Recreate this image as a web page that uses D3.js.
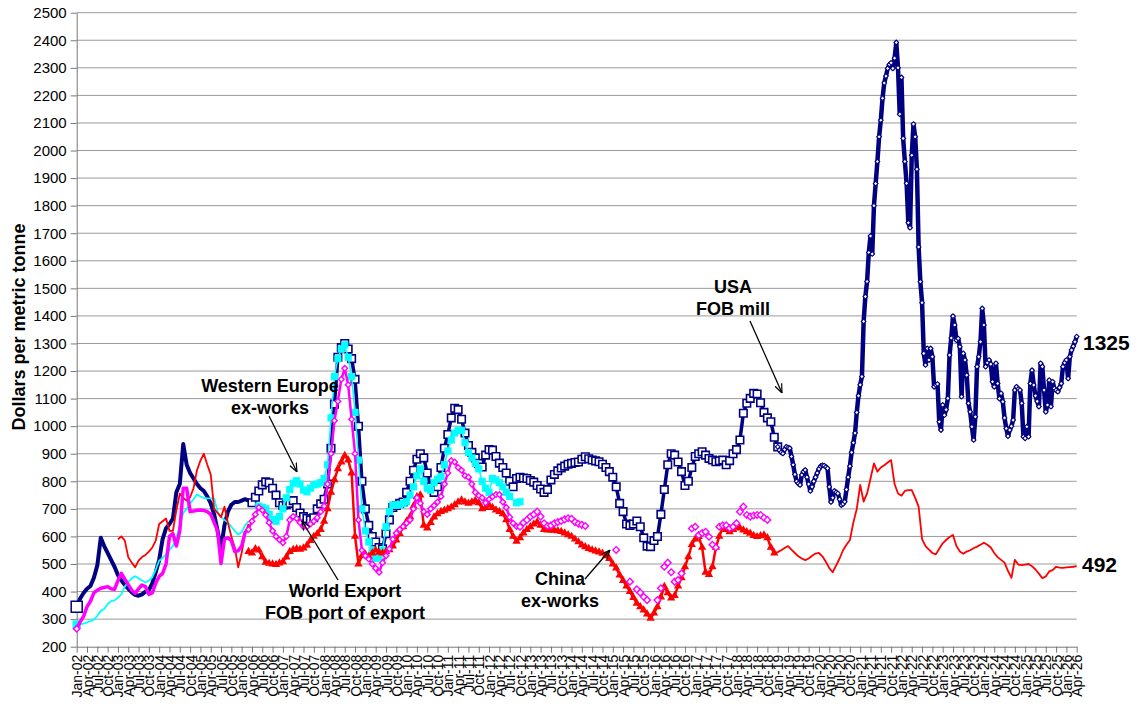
<!DOCTYPE html>
<html><head><meta charset="utf-8">
<script src="https://cdn.jsdelivr.net/npm/d3@7"></script>
<style>
body{margin:0;background:#fff;}
text{font-family:"Liberation Sans",Arial,Helvetica,sans-serif;}
</style>
</head><body>
<svg id="chart" width="1140" height="706"></svg>
<script>
// ---------------- DATA ----------------
// month index 0 = Jan-02 ... 291 = Apr-26
const monthNames = ["Jan","Feb","Mar","Apr","May","Jun","Jul","Aug","Sep","Oct","Nov","Dec"];
const yTicks = [200,300,400,500,600,700,800,900,1000,1100,1200,1300,1400,1500,1600,1700,1800,1900,2000,2100,2200,2300,2400,2500];

// USA FOB mill
const usaEarlyStart = 0;
const usaEarly = [345,375,395,410,420,450,495,595,565,540,515,490,460,440,425,410,398,388,385,390,
400,405,430,470,515,590,630,645,665,760,790,935,860,830,810,790,775,765,745,720,
680,620,555,640,690,715,725,725,730,735,730,722];
const usaSquaresStart = 51;
const usaSquares = [722,742,765,787,798,795,775,750,722,
712,715,720,730,705,685,672,665,660,668,
700,718,735,790,920,1080,1250,1285,1300,1280,
1245,1170,1000,800,700,640,600,580,560,555,
610,660,705,712,720,725,760,800,840,880,
900,885,830,780,760,780,850,920,970,1030,
1065,1060,1025,975,930,905,885,865,852,895,
915,913,890,866,850,830,800,780,810,815,
812,810,803,797,785,772,760,770,805,825,
838,848,855,862,865,868,870,880,889,882,
877,874,871,862,850,835,815,780,720,690,
645,640,645,656,635,595,565,563,585,600,
680,770,860,900,895,870,835,785,800,850,
890,900,907,895,883,877,871,874,877,860,
875,900,915,950,1047,1083,1101,1119,1117,1085,
1050,1030,1016,960,925];
const usaRecentStart = 204; // half-month steps
const usaRecent = [925,913, 905,901, 915,925, 922,920, 890,860, 825,800, 792,787, 823,835, 841,815, 790,765,
780,800, 815,830, 845,855, 858,857, 852,847, 780,725, 740,765, 760,756, 735,714, 718,726,
770,815, 855,905, 940,975, 1050,1110, 1150,1180, 1380,1470, 1525,1630, 1690,1625, 1800,1880, 1960,2050,
2110,2190, 2245,2270, 2298,2312, 2318,2298, 2335,2392, 2300,2132, 2265,2044, 1960,1881, 1738,1720, 1983,2096,
2050,1932, 1650,1524, 1448,1264, 1222,1282, 1240,1282, 1252,1143, 1150,1153, 1016,986, 1077,1040, 1060,1101,
1258,1320, 1399,1367, 1312,1318, 1288,1107, 1264,1240, 1185,1083, 1052,998, 950,1034, 1216,1252, 1306,1427,
1367,1216, 1230,1240, 1225,1161, 1143,1228, 1155,1100, 1119,1089, 1030,992, 964,986, 1000,1022, 1131,1143,
1135,1131, 1083,962, 956,998, 962,1155, 1203,1149, 1110,1090, 1071,1228, 1216,1131, 1052,1077, 1167,1071,
1161,1137, 1130,1125, 1140,1155, 1216,1230, 1240,1173, 1252,1276, 1290,1306, 1325];

// World Export FOB port of export
const exportEarlyStart = 12;
const exportEarly = [590,600,585,525,505,488,512,525,533,545,560,585,645,655,665,620,620,695,755,740,
730,742,775,840,875,900,860,825,700,685,670,708,650,600,560,488,540,610,645];
const exportTriStart = 50;
const exportTri = [545,540,555,550,526,506,502,500,498,503,
508,525,545,552,555,553,558,568,585,600,
610,625,655,700,760,805,845,870,893,877,
830,600,500,530,535,528,540,550,542,540,
545,551,565,587,610,635,655,671,710,744,
750,640,630,650,670,682,690,695,700,706,
715,725,732,725,720,725,730,722,700,705,
714,705,696,690,682,660,625,600,582,595,
612,625,635,645,652,640,625,623,623,622,
620,618,612,606,600,590,580,569,562,556,
551,547,543,539,530,520,500,485,460,440,
420,400,378,357,345,333,318,303,322,345,
380,418,395,376,385,420,450,490,526,570,
590,599,560,470,462,490,560,600,633,625,
617,625,635,630,623,617,611,603,599,602,
605,595,560,540];
const exportLateStart = 203;
const exportLate = [540,543,550,558,565,552,540,528,520,514,
520,530,538,540,528,508,485,470,495,520,
550,570,587,650,700,787,726,756,810,865,
835,850,858,868,877,790,756,748,765,768,
768,740,708,590,565,552,540,535,555,575,
587,598,605,565,545,537,545,550,557,563,
570,577,570,560,540,525,515,505,475,450,
515,498,496,498,500,492,480,465,448,455,
473,478,490,487,486,488,489,490,492];

// China ex-works
const chinaEarlyStart = 0;
const chinaEarly = [265,290,310,345,365,395,405,412,415,418,
410,408,440,466,445,425,405,394,410,424,
418,390,395,430,455,466,500,600,610,565,
620,775,775,690,692,695,696,695,690,680,
650,620,502,590,595,585,545,548,565,615,625];
const chinaMidStart = 50;
const chinaMid = [625,655,680,705,695,678,650,620,600,588,
577,600,660,672,665,650,635,635,645,655,
668,690,710,790,900,1020,1090,1170,1210,1150,
1025,900,660,550,530,518,500,485,470,505,
530,555,590,612,625,636,648,660,700,740,
720,690,680,700,712,725,745,790,830,875,
870,850,840,820,815,790,760,748,740,722,
735,744,752,752,725,705,670,648,636];
const chinaLateStart = 129;
const chinaLate = [635,650,660,672,680,690,672,648,638,640,
648,652,656,662,666,664,652,646,642,638,
null,null,null,null,null,null,null,null,551,null,
null,null,436,null,408,396,381,369,null,null,
369,412,490,505,470,436,442,466,null,null,
629,635,605,612,617,599,570,560,635,640,
640,630,635,648,690,708,678,672,676,678,
678,668,660];

// Western Europe ex-works
const weEarlyStart = 0;
const weEarly = [280,282,284,288,293,298,312,330,337,355,
365,368,378,390,418,435,448,456,448,440,
433,440,452,480,512,522,535,552,566,595,
640,685,700,720,735,752,745,740,738,738,
738,690,670,660,650,635,620,607,615,640,655];
const weSquaresStart = 53;
const weSquares = [710,705,700,680,662,655,672,700,740,770,
793,802,790,768,762,775,787,790,795,810,
860,1030,1180,1245,1280,1295,1250,1180,1050,877,
700,620,580,550,520,525,550,635,690,714,
714,714,720,726,750,780,820,845,800,775,
768,795,808,817,860,910,950,975,985,985,
940,905,885,865,845,800,775,760,810,805,
795,780,760,745,null,722,726];

// ---------------- DRAWING ----------------
const svg = d3.select("#chart");
const tickIdx = d3.range(0, 292, 3);
const tickLabels = tickIdx.map(i => monthNames[i % 12] + "-" + String(2 + Math.floor(i / 12)).padStart(2, "0"));

const x = d3.scaleLinear().domain([0, 291]).range([76.7, 1076.7]);
const y = d3.scaleLinear().domain([200, 2500]).range([646.7, 12.7]);

function pts(start, step, vals) { return vals.map((v, k) => ({ i: start + k * step, v })); }
const line = d3.line().defined(d => d.v != null).x(d => x(d.i)).y(d => y(d.v));

// gridlines
svg.append("g").selectAll("line").data(yTicks.slice(1)).join("line")
  .attr("x1", x(0)).attr("x2", x(291))
  .attr("y1", d => y(d)).attr("y2", d => y(d))
  .attr("stroke", "#9a9a9a").attr("stroke-width", 1);

// y axis
const gy = svg.append("g").attr("transform", `translate(${x(0)},0)`)
  .call(d3.axisLeft(y).tickValues(yTicks).tickFormat(d3.format("d")).tickSize(6).tickPadding(4).tickSizeOuter(0));
gy.select(".domain").attr("stroke", "#777");
gy.selectAll(".tick line").attr("stroke", "#777");
gy.selectAll("text").attr("font-size", 15).attr("fill", "#000")
  .style("font-family", '"Liberation Sans",Arial,sans-serif');

// x axis
const gx = svg.append("g").attr("transform", `translate(0,${y(200)})`)
  .call(d3.axisBottom(x).tickValues(tickIdx).tickFormat((d, k) => tickLabels[k]).tickSize(6).tickSizeOuter(0));
gx.select(".domain").attr("stroke", "#777");
gx.selectAll(".tick line").attr("stroke", "#777");
gx.selectAll("text").attr("font-size", 14).attr("fill", "#000")
  .style("font-family", '"Liberation Sans",Arial,sans-serif')
  .attr("text-anchor", "end").attr("transform", "translate(0,2) rotate(-90)")
  .attr("x", -6).attr("y", 0).attr("dy", "0.36em");

// y title
svg.append("text").attr("transform", "translate(25,327) rotate(-90)")
  .attr("text-anchor", "middle").attr("font-weight", "bold").attr("font-size", 18)
  .text("Dollars per metric tonne");

const NAVY = "#000080", RED = "#ff0000", MAG = "#ff00ff", CYAN = "#00ffff";
const sym = (type, size) => d3.symbol().type(type).size(size)();

function drawLine(data, color, width) {
  svg.append("path").datum(data).attr("d", line).attr("fill", "none")
    .attr("stroke", color).attr("stroke-width", width).attr("stroke-linejoin", "round");
}
function drawMarkers(data, type, size, fill, stroke, sw, rot) {
  svg.append("g").selectAll("path").data(data.filter(d => d.v != null)).join("path")
    .attr("transform", d => `translate(${x(d.i)},${y(d.v)})` + (rot ? ` rotate(${rot})` : ""))
    .attr("d", sym(type, size)).attr("fill", fill).attr("stroke", stroke).attr("stroke-width", sw);
}

// USA
const usaA = pts(usaEarlyStart, 1, usaEarly);
const usaB = pts(usaSquaresStart, 1, usaSquares);
const usaC = pts(usaRecentStart, 0.5, usaRecent);
drawLine(usaA, NAVY, 4);
drawLine(usaB, NAVY, 3.5);
drawLine(usaC, NAVY, 4.5);
drawMarkers([usaA[0]], d3.symbolSquare, 121, "#fff", NAVY, 1.5);
drawMarkers(usaB, d3.symbolSquare, 56, "#fff", NAVY, 1.6);
drawMarkers(usaC, d3.symbolSquare, 11, "#fff", NAVY, 1.1, 45);

// Western Europe
const weA = pts(weEarlyStart, 1, weEarly);
const weB = pts(weSquaresStart, 1, weSquares);
drawLine(weA, CYAN, 1.8);
drawMarkers([weA[0]], d3.symbolSquare, 70, CYAN, "none", 0);
drawLine(weB, CYAN, 1.5);
drawMarkers(weB, d3.symbolSquare, 52, CYAN, "none", 0);

// World Export
const exA = pts(exportEarlyStart, 1, exportEarly);
const exB = pts(exportTriStart, 1, exportTri);
const exC = pts(exportLateStart, 1, exportLate);
drawLine(exA, RED, 1.8);
drawLine(exB, RED, 2.5);
drawMarkers(exB, d3.symbolTriangle, 30, RED, "none", 0);
drawLine(exC, RED, 1.8);

// China
const chA = pts(chinaEarlyStart, 1, chinaEarly);
const chB = pts(chinaMidStart, 1, chinaMid);
const chC = pts(chinaLateStart, 1, chinaLate);
drawLine(chA, MAG, 3.5);
drawMarkers([chA[0]], d3.symbolSquare, 20, "#fff", MAG, 1.5, 45);
drawLine(chB, MAG, 2.5);
drawMarkers(chB, d3.symbolSquare, 16, "#fff", MAG, 1.4, 45);
drawMarkers(chC, d3.symbolSquare, 22, "#fff", MAG, 1.4, 45);

// end labels
svg.append("text").attr("x", 1083).attr("y", 350).attr("font-weight", "bold").attr("font-size", 21).text("1325");
svg.append("text").attr("x", 1082).attr("y", 572).attr("font-weight", "bold").attr("font-size", 21).text("492");

// annotations
svg.append("defs").append("marker").attr("id", "ah").attr("viewBox", "0 0 10 10")
  .attr("refX", 10).attr("refY", 5).attr("markerWidth", 9).attr("markerHeight", 9)
  .attr("orient", "auto").attr("markerUnits", "userSpaceOnUse")
  .append("path").attr("d", "M0,1 L10,5 L0,9").attr("fill", "none").attr("stroke", "#000").attr("stroke-width", 1.3);

const notes = [
  { lines: ["Western Europe", "ex-works"], cx: 270, y0: 392, arrow: [269, 416, 297, 472] },
  { lines: ["World Export", "FOB port of export"], cx: 345, y0: 597, arrow: [338, 580, 302, 521] },
  { lines: ["China", "ex-works"], cx: 560, y0: 585, arrow: [585, 579, 610, 550] },
  { lines: ["USA", "FOB mill"], cx: 733, y0: 293, arrow: [750, 321, 782, 393] }
];
notes.forEach(n => {
  n.lines.forEach((t, k) => svg.append("text").attr("x", n.cx).attr("y", n.y0 + k * 22)
    .attr("text-anchor", "middle").attr("font-weight", "bold").attr("font-size", 18).text(t));
  svg.append("line").attr("x1", n.arrow[0]).attr("y1", n.arrow[1]).attr("x2", n.arrow[2]).attr("y2", n.arrow[3])
    .attr("stroke", "#000").attr("stroke-width", 1.3).attr("marker-end", "url(#ah)");
});
</script>
</body></html>
